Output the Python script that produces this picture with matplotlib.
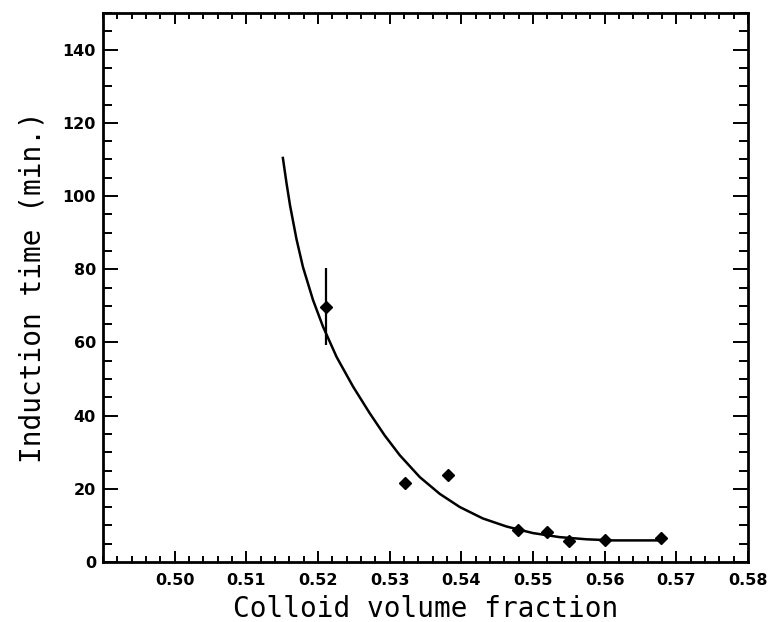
import matplotlib
matplotlib.use("Agg")
import matplotlib.pyplot as plt
from matplotlib.ticker import MultipleLocator, FixedLocator

# Measured induction times
phi = [0.5211, 0.5321, 0.5382, 0.5479, 0.5520, 0.5550, 0.5600, 0.5679]
t_ind = [69.8, 21.5, 23.8, 8.7, 8.2, 5.8, 6.0, 6.5]
t_err_lo = [10.5, 0, 0, 0, 0, 0, 0, 0]
t_err_hi = [10.5, 0, 0, 0, 0, 0, 0, 0]

# Fitted curve
fit_phi = [0.5151, 0.5156, 0.5161, 0.5170, 0.5179, 0.5193, 0.5207, 0.5226,
           0.5249, 0.5272, 0.5293, 0.5314, 0.5342, 0.5370, 0.5398, 0.5430,
           0.5463, 0.5500, 0.5537, 0.5575, 0.5612, 0.5677]
fit_t = [110.4, 103.6, 97.4, 88.2, 80.6, 71.6, 64.3, 56.0,
         47.9, 40.7, 34.6, 29.2, 23.2, 18.6, 15.0, 11.9,
         9.7, 7.9, 6.8, 6.2, 5.9, 5.9]

x_ticks = [0.50, 0.51, 0.52, 0.53, 0.54, 0.55, 0.56, 0.57, 0.58]
x_ticklabels = ["0.50", "0.51", "0.52", "0.53", "0.54", "0.55", "0.56", "0.57", "0.58"]
y_ticks = [0, 20, 40, 60, 80, 100, 120, 140]

W, H = 770, 622
fig = plt.figure(figsize=(W / 100, H / 100), dpi=100)
ax = fig.add_axes([103 / W, 60 / H, 645 / W, 549 / H])

ax.plot(fit_phi, fit_t, color="black", lw=1.8, solid_joinstyle="round")
ax.errorbar(phi, t_ind, yerr=[t_err_lo, t_err_hi], fmt="D", color="black",
            ms=6.6, elinewidth=1.6, capsize=0)

ax.set_xlim(0.49, 0.58)
ax.set_ylim(0, 150)

ax.xaxis.set_major_locator(FixedLocator(x_ticks))
ax.set_xticklabels(x_ticklabels)
ax.xaxis.set_minor_locator(MultipleLocator(0.002))
ax.yaxis.set_major_locator(FixedLocator(y_ticks))
ax.yaxis.set_minor_locator(MultipleLocator(5))

ax.tick_params(axis="both", which="both", direction="in", top=True, right=True,
               width=1.4, colors="black")
ax.tick_params(axis="x", which="major", length=8, pad=8)
ax.tick_params(axis="x", which="minor", length=4.5)
ax.tick_params(axis="y", which="major", length=10.5, pad=5)
ax.tick_params(axis="y", which="minor", length=6.5)

for lab in ax.get_xticklabels() + ax.get_yticklabels():
    lab.set_fontfamily("DejaVu Sans")
    lab.set_fontweight("bold")
    lab.set_fontsize(11.5)

for sp in ax.spines.values():
    sp.set_linewidth(2.0)

ax.set_xlabel("Colloid volume fraction", fontfamily="DejaVu Sans Mono",
              fontsize=20, labelpad=5)
ax.set_ylabel("Induction time (min.)", fontfamily="DejaVu Sans Mono",
              fontsize=20, labelpad=12)

fig.savefig("out.png", dpi=100)
